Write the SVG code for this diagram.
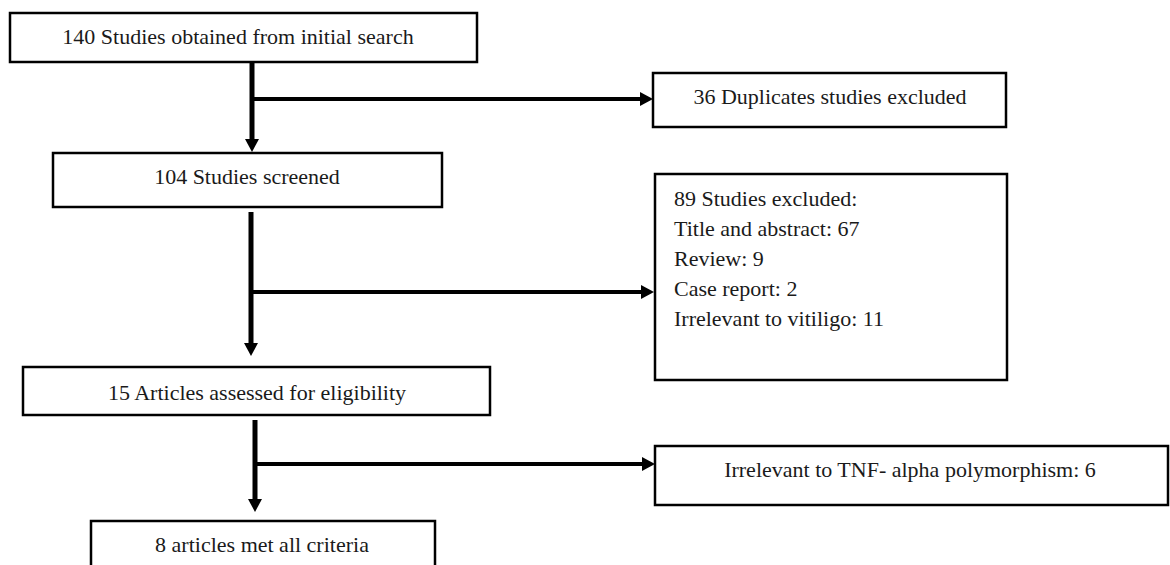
<svg xmlns="http://www.w3.org/2000/svg" width="1170" height="565" viewBox="0 0 1170 565">
  <style>
    .box { fill: #ffffff; stroke: #000000; stroke-width: 2.5; }
    .txt { font-family: "Liberation Serif", "Times New Roman", serif; font-size: 22px; fill: #1a1a1a; }
    .mid { text-anchor: middle; }
    .v { stroke: #000000; stroke-width: 5; fill: none; }
    .h { stroke: #000000; stroke-width: 4; fill: none; }
  </style>
  <defs>
    <marker id="arrow" markerUnits="userSpaceOnUse" markerWidth="14" markerHeight="14" refX="1" refY="7" orient="auto">
      <path d="M0,0 L13,7 L0,14 z" fill="#000000"/>
    </marker>
  </defs>
  <rect width="1170" height="565" fill="#ffffff"/>

  <g id="connectors">
    <line class="v" x1="252" y1="62" x2="252" y2="140" marker-end="url(#arrow)"/>
    <line class="h" x1="252" y1="99" x2="641" y2="99" marker-end="url(#arrow)"/>
    <line class="v" x1="251" y1="212" x2="251" y2="344" marker-end="url(#arrow)"/>
    <line class="h" x1="251" y1="292" x2="642" y2="292" marker-end="url(#arrow)"/>
    <line class="v" x1="255" y1="420" x2="255" y2="500" marker-end="url(#arrow)"/>
    <line class="h" x1="255" y1="464" x2="643" y2="464" marker-end="url(#arrow)"/>
  </g>

  <g id="node-initial">
    <rect class="box" x="10" y="13" width="467" height="49"/>
    <text class="txt mid" x="238" y="44">140 Studies obtained from initial search</text>
  </g>

  <g id="node-duplicates">
    <rect class="box" x="653" y="73" width="353" height="54"/>
    <text class="txt mid" x="830" y="104">36 Duplicates studies excluded</text>
  </g>

  <g id="node-screened">
    <rect class="box" x="53" y="153" width="389" height="54"/>
    <text class="txt mid" x="247" y="184">104 Studies screened</text>
  </g>

  <g id="node-excluded">
    <rect class="box" x="655" y="174" width="352" height="206"/>
    <text class="txt" x="674" y="206">89 Studies excluded:</text>
    <text class="txt" x="674" y="236">Title and abstract: 67</text>
    <text class="txt" x="674" y="266">Review: 9</text>
    <text class="txt" x="674" y="296">Case report: 2</text>
    <text class="txt" x="674" y="326">Irrelevant to vitiligo: 11</text>
  </g>

  <g id="node-eligibility">
    <rect class="box" x="23" y="367" width="467" height="48"/>
    <text class="txt mid" x="257" y="400">15 Articles assessed for eligibility</text>
  </g>

  <g id="node-tnf">
    <rect class="box" x="655" y="446" width="513" height="59"/>
    <text class="txt mid" x="910" y="477">Irrelevant to TNF- alpha polymorphism: 6</text>
  </g>

  <g id="node-final">
    <rect class="box" x="91" y="521" width="344" height="62"/>
    <text class="txt mid" x="262" y="552">8 articles met all criteria</text>
  </g>
</svg>
